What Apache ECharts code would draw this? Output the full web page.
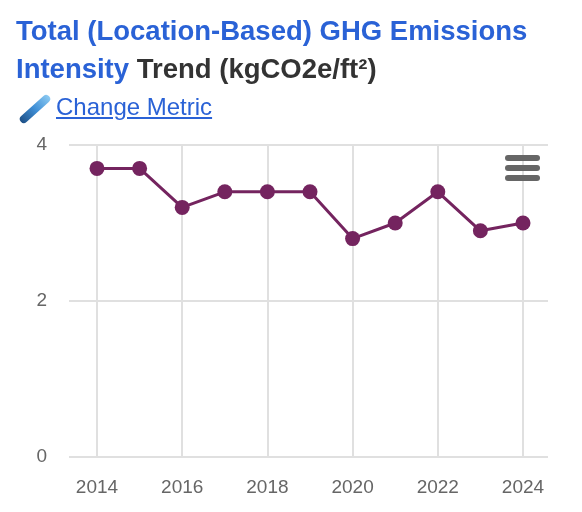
<!DOCTYPE html>
<html>
<head>
<meta charset="utf-8">
<script src="https://cdn.jsdelivr.net/npm/echarts@6/dist/echarts.min.js"></script>
<style>
  body { margin: 0; width: 582px; height: 512px; background: #fff; font-family: "Liberation Sans", Arial, sans-serif; overflow: hidden; }
  #chart { position: absolute; left: 0; top: 0; width: 582px; height: 512px; }
  #head { position: absolute; left: 16px; top: 12px; z-index: 2; white-space: nowrap; }
  .title { font-size: 27.5px; font-weight: bold; line-height: 38px; color: #333; }
  .title .b { color: #2a62d6; }
  .link { margin-top: 5px; font-size: 24px; color: #2a62d6; text-decoration: underline; position: relative; padding-left: 40px; }
  .pen { position: absolute; left: 0px; top: 12px; width: 38px; height: 8px; border-radius: 4px; background: linear-gradient(90deg, #1d4f86, #3f8fd6, #8ccaf2); transform: rotate(-42deg); }
  #menu { position: absolute; left: 505px; top: 155px; z-index: 2; }
  #menu div { width: 35px; height: 6px; border-radius: 3px; background: #666; margin-bottom: 4px; }
</style>
</head>
<body>
<div id="head">
  <div class="title"><span class="b">Total (Location-Based) GHG Emissions<br>Intensity</span> Trend (kgCO2e/ft²)</div>
  <div class="link"><span class="pen"></span>Change Metric</div>
</div>
<div id="menu"><div></div><div></div><div></div></div>
<div id="chart"></div>
<script>
const years = [2014, 2015, 2016, 2017, 2018, 2019, 2020, 2021, 2022, 2023, 2024];
const intensity = [3.7, 3.7, 3.2, 3.4, 3.4, 3.4, 2.8, 3.0, 3.4, 2.9, 3.0];
const yTicks = [0, 2, 4];

const chart = echarts.init(document.getElementById('chart'));
const labelStyle = { color: '#666', fontSize: 19, fontFamily: 'Liberation Sans, Arial, sans-serif' };
chart.setOption({
  animation: false,
  grid: [
    { left: 69, right: 34, top: 145, bottom: 55 },
    { left: 97, right: 59, top: 145, bottom: 55 }
  ],
  xAxis: [
    { gridIndex: 0, type: 'value', show: false },
    {
      gridIndex: 1, type: 'value', min: 2014, max: 2024, interval: 2,
      axisLine: { show: false }, axisTick: { show: false },
      axisLabel: Object.assign({ margin: 21, formatter: v => String(v) }, labelStyle),
      splitLine: { lineStyle: { color: '#e0e0e0', width: 2 } }
    }
  ],
  yAxis: [
    {
      gridIndex: 0, type: 'value', min: yTicks[0], max: yTicks[yTicks.length - 1], interval: 2,
      axisLine: { show: false }, axisTick: { show: false },
      axisLabel: Object.assign({ margin: 22 }, labelStyle),
      splitLine: { lineStyle: { color: '#e0e0e0', width: 2 } }
    },
    { gridIndex: 1, type: 'value', min: 0, max: 4, show: false }
  ],
  series: [{
    type: 'line',
    xAxisIndex: 1, yAxisIndex: 1,
    data: years.map((y, i) => [y, intensity[i]]),
    symbol: 'circle', symbolSize: 15,
    lineStyle: { color: '#74245f', width: 3 },
    itemStyle: { color: '#74245f' }
  }]
});
</script>
</body>
</html>
